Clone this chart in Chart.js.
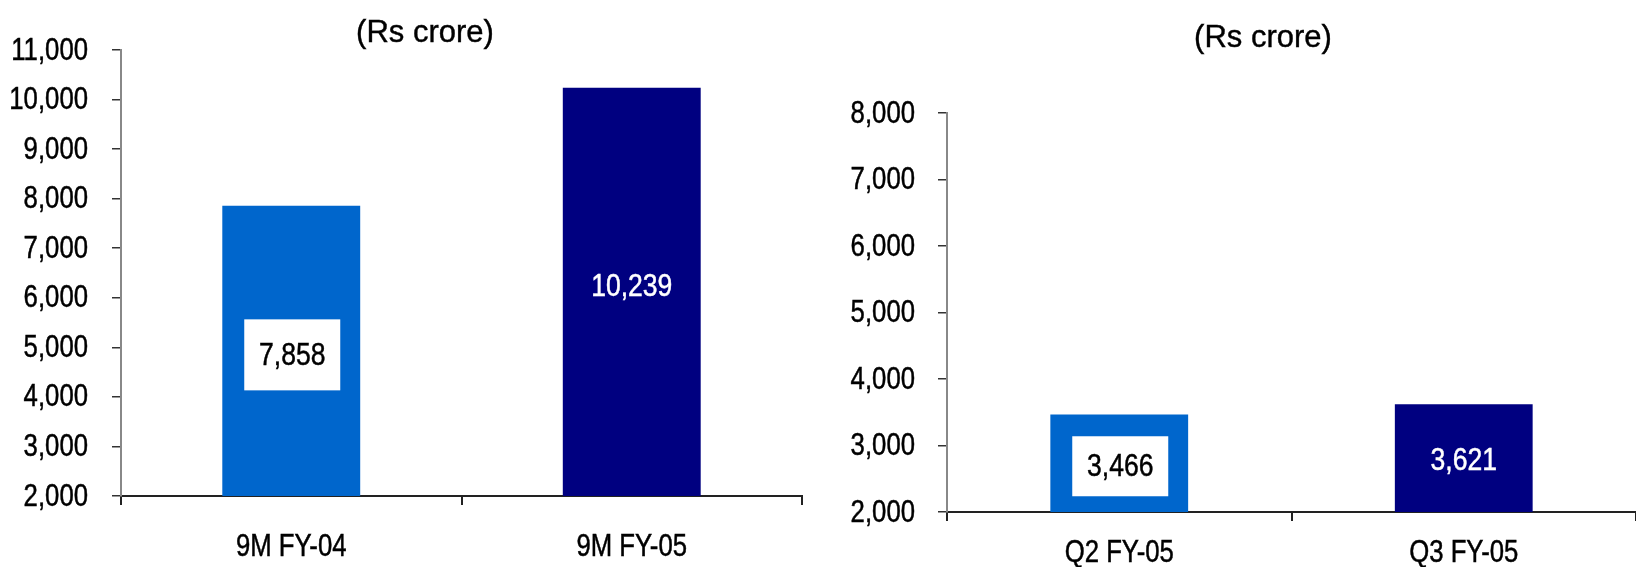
<!DOCTYPE html>
<html>
<head>
<meta charset="utf-8">
<script src="https://cdn.jsdelivr.net/npm/chart.js@4"></script>
<style>
  html, body { margin: 0; padding: 0; background: #fff; }
  body { width: 1636px; height: 567px; position: relative; overflow: hidden; }
  .box { position: absolute; top: 0; height: 567px; }
</style>
</head>
<body>
<div class="box" style="left:0;width:850px"><canvas id="ninemonth"></canvas></div>
<div class="box" style="left:820px;width:816px"><canvas id="quarter"></canvas></div>
<script>
// nine-month totals (Rs crore)
const nineMonthLabels = ["9M FY-04", "9M FY-05"];
const nineMonthValues = [7858, 10239];
const nineMonthTicks = [2000, 11000];

// quarterly totals (Rs crore)
const quarterLabels = ["Q2 FY-05", "Q3 FY-05"];
const quarterValues = [3466, 3621];
const quarterTicks = [2000, 8000];

const barColors = ["#0066CC", "#000080"];
const FONT = '"Liberation Sans", Arial, sans-serif';
const SQUEEZE = 0.83; // narrow look for numbers and category names

function narrowText(ctx, text, x, y, size, align, color) {
  ctx.save();
  ctx.font = size + "px " + FONT;
  ctx.fillStyle = color;
  ctx.strokeStyle = color;
  ctx.lineWidth = 0.5;
  ctx.textAlign = align;
  ctx.textBaseline = "middle";
  ctx.translate(x, y);
  ctx.scale(SQUEEZE, 1);
  ctx.fillText(text, 0, 0);
  ctx.strokeText(text, 0, 0);
  ctx.restore();
}

// "(Rs crore)" caption above each chart
const caption = {
  id: "caption",
  afterDraw(chart, args, opts) {
    const ctx = chart.ctx;
    ctx.save();
    ctx.font = "31px " + FONT;
    ctx.fillStyle = "#000";
    ctx.strokeStyle = "#000";
    ctx.lineWidth = 0.4;
    ctx.textAlign = "center";
    ctx.textBaseline = "middle";
    ctx.fillText(opts.text, opts.x, opts.y);
    ctx.strokeText(opts.text, opts.x, opts.y);
    ctx.restore();
  }
};

// tick labels drawn condensed at the positions the scales give
const axisLabels = {
  id: "axisLabels",
  afterDraw(chart, args, opts) {
    const ctx = chart.ctx;
    const { x, y } = chart.scales;
    const area = chart.chartArea;
    y.ticks.forEach((t, i) => {
      narrowText(ctx, t.value.toLocaleString("en-US"), area.left - opts.yGap, y.getPixelForTick(i) + 1, 31, "right", "#000");
    });
    x.ticks.forEach((t, i) => {
      narrowText(ctx, chart.data.labels[i], x.getPixelForTick(i), area.bottom + opts.xGap, 31, "center", "#000");
    });
  }
};

// value written in the middle of each bar, first one on a white plate
const barLabels = {
  id: "barLabels",
  afterDatasetsDraw(chart, args, opts) {
    const ctx = chart.ctx;
    const values = chart.data.datasets[0].data;
    const bottom = chart.chartArea.bottom;
    chart.getDatasetMeta(0).data.forEach((bar, i) => {
      const cy = (bar.y + Math.min(bar.base, bottom)) / 2 + opts.shift;
      if (i === 0) {
        ctx.fillStyle = "#fff";
        ctx.fillRect(bar.x - opts.boxW / 2 + 1, cy - opts.boxH / 2, opts.boxW, opts.boxH);
        narrowText(ctx, values[i].toLocaleString("en-US"), bar.x + 1, cy + 1, 32, "center", "#000");
      } else {
        narrowText(ctx, values[i].toLocaleString("en-US"), bar.x, cy + opts.whiteY, 32, "center", "#fff");
      }
    });
  }
};

function makeChart(id, labels, values, range, cfg) {
  return new Chart(document.getElementById(id), {
    type: "bar",
    data: {
      labels,
      datasets: [{
        data: values,
        backgroundColor: barColors,
        categoryPercentage: 1,
        barPercentage: cfg.barPct
      }]
    },
    options: {
      responsive: true,
      maintainAspectRatio: false,
      animation: false,
      layout: { padding: { left: 0, right: cfg.padRight, top: cfg.top, bottom: 0 } },
      plugins: {
        legend: { display: false },
        tooltip: { enabled: false },
        caption: { text: "(Rs crore)", x: cfg.capX, y: cfg.capY },
        axisLabels: { xGap: cfg.xGap, yGap: cfg.yGap },
        barLabels: { boxW: 96, boxH: cfg.boxH, shift: cfg.shift, whiteY: cfg.whiteY }
      },
      scales: {
        x: {
          grid: { drawOnChartArea: false, drawTicks: true, tickLength: 9, color: "#222", lineWidth: 2 },
          border: { display: true, color: "#222", width: 2 },
          ticks: { display: false },
          afterFit(scale) { scale.height = cfg.xHeight; }
        },
        y: {
          min: range[0],
          max: range[1],
          grid: { drawOnChartArea: false, drawTicks: true, tickLength: 9, color: "#333", lineWidth: 1.5 },
          border: { display: true, color: "#888", width: 2 },
          ticks: { stepSize: 1000, display: false },
          afterFit(scale) { scale.width = cfg.yWidth; }
        }
      }
    },
    plugins: [caption, axisLabels, barLabels]
  });
}

makeChart("ninemonth", nineMonthLabels, nineMonthValues, nineMonthTicks, {
  barPct: 0.405, padRight: 48, top: 50, xHeight: 71, yWidth: 121,
  xGap: 51, yGap: 33, capX: 425, capY: 33, boxH: 71, shift: 4, whiteY: -9
});

makeChart("quarter", quarterLabels, quarterValues, quarterTicks, {
  barPct: 0.4, padRight: 0, top: 113, xHeight: 55, yWidth: 127,
  xGap: 41, yGap: 32, capX: 443, capY: 38, boxH: 60, shift: 3, whiteY: 0
});
</script>
</body>
</html>
